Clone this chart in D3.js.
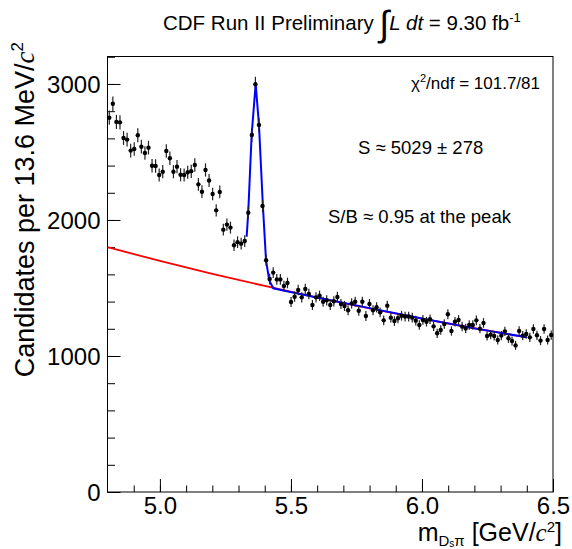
<!DOCTYPE html>
<html>
<head>
<meta charset="utf-8">
<script src="https://cdn.jsdelivr.net/npm/d3@7"></script>
<style>
  body { margin: 0; background: #fff; }
  text { font-family: "Liberation Sans", Arial, Helvetica, sans-serif; fill: #000; }
</style>
</head>
<body>
<script>
// histogram: 125 bins of 13.6 MeV from 4.8 GeV
var binStart = 4.8,
    binWidth = 0.0136;

var counts = [
    2752, 2855, 2721, 2718, 2603, 2591, 2510, 2522, 2623, 2539,
    2493, 2532, 2399, 2397, 2331, 2355, 2507, 2454, 2355, 2392,
    2333, 2331, 2351, 2358, 2404, 2262, 2208, 2368, 2290, 2191,
    2071, 2206, 1929, 1966, 1944, 1814, 1837, 1826, 1845, 2054,
    2625, 2998, 2699, 2103, 1704, 1566, 1613, 1563, 1563, 1515,
    1537, 1397, 1436, 1485, 1431, 1493, 1456, 1375, 1431, 1443,
    1399, 1409, 1375, 1402, 1434, 1382, 1368, 1336, 1387, 1399,
    1333, 1399, 1294, 1382, 1336, 1358, 1321, 1262, 1370, 1282,
    1257, 1277, 1296, 1290, 1290, 1282, 1260, 1228, 1265, 1252,
    1270, 1218, 1167, 1191, 1235, 1307, 1184, 1252, 1265, 1216,
    1203, 1228, 1228, 1262, 1201, 1243, 1147, 1157, 1147, 1118,
    1150, 1181, 1130, 1110, 1078, 1184, 1150, 1162, 1137, 1199,
    1152, 1113, 1199, 1118, 1154
];

// fit curves [mass, candidates]
var fitTotal = [
    [5.331, 1877], [5.337, 2054], [5.350, 2625], [5.3654, 3000], [5.378, 2699],
    [5.393, 2103], [5.405, 1701], [5.4175, 1554], [5.4327, 1498], [5.475, 1480],
    [5.6, 1430], [5.8, 1352], [6.0, 1275], [6.2, 1203], [6.4, 1137]
];
var fitBackground = [
    [4.8, 1800], [5.0, 1699], [5.2, 1604], [5.4, 1515], [5.6, 1430],
    [5.8, 1350], [6.0, 1275], [6.2, 1204], [6.4, 1137]
];

var xTicks = [5.0, 5.5, 6.0, 6.5],
    yTicks = [0, 1000, 2000, 3000];

var width = 572, height = 549,
    frameL = 107.5, frameR = 553, frameT = 56.5, frameB = 492;

var svg = d3.select('body').append('svg')
    .attr('width', width).attr('height', height);

var x = d3.scaleLinear().domain([4.8, 6.5]).range([frameL, frameR]);
var y = d3.scaleLinear().domain([0, 3202]).range([frameB, frameT]);

// axes, ticks inside the frame like ROOT
var xAxis = d3.axisBottom(x).tickValues(xTicks).tickFormat(d3.format('.1f'))
    .tickSizeInner(-13).tickSizeOuter(0).tickPadding(0);
var xMinor = d3.axisBottom(x).tickValues(d3.range(49, 66).map(function(d) { return d / 10; }))
    .tickSize(-6.5).tickFormat('');
var yAxis = d3.axisLeft(y).tickValues(yTicks).tickFormat(d3.format('d'))
    .tickSizeInner(-13).tickSizeOuter(0).tickPadding(0);
var yMinor = d3.axisLeft(y).tickValues(d3.range(0, 3201, 200))
    .tickSize(-7.5).tickFormat('');

svg.append('g').attr('transform', 'translate(0,' + frameB + ')').call(xMinor);
var gx = svg.append('g').attr('transform', 'translate(0,' + frameB + ')').call(xAxis);
svg.append('g').attr('transform', 'translate(' + frameL + ',0)').call(yMinor);
var gy = svg.append('g').attr('transform', 'translate(' + frameL + ',0)').call(yAxis);

svg.selectAll('.domain').remove();
svg.selectAll('.tick line').attr('stroke', '#000');
gx.selectAll('.tick text').style('font-size', '24px').attr('fill', '#000')
    .attr('y', 22).attr('dy', null);
gy.selectAll('.tick text').style('font-size', '24px').attr('fill', '#000')
    .attr('x', -7).attr('dy', '0.36em');

svg.append('rect')
    .attr('x', frameL).attr('y', frameT)
    .attr('width', frameR - frameL).attr('height', frameB - frameT)
    .attr('fill', 'none').attr('stroke', '#000').attr('stroke-width', 1);

// fits
var line = d3.line()
    .x(function(d) { return x(d[0]); })
    .y(function(d) { return y(d[1]); });

svg.append('path').datum(fitBackground)
    .attr('d', line).attr('fill', 'none')
    .attr('stroke', '#ff0000').attr('stroke-width', 1.8);
svg.append('path').datum(fitTotal)
    .attr('d', line).attr('fill', 'none')
    .attr('stroke', '#0000ff').attr('stroke-width', 2);

// data points with sqrt(N) errors
var pts = svg.append('g').selectAll('g').data(counts).enter().append('g');
pts.append('line')
    .attr('x1', function(d, i) { return x(binStart + (i + 0.5) * binWidth); })
    .attr('x2', function(d, i) { return x(binStart + (i + 0.5) * binWidth); })
    .attr('y1', function(d) { return y(d - Math.sqrt(d)); })
    .attr('y2', function(d) { return y(d + Math.sqrt(d)); })
    .attr('stroke', '#222').attr('stroke-width', 1.2);
pts.append('circle')
    .attr('cx', function(d, i) { return x(binStart + (i + 0.5) * binWidth); })
    .attr('cy', function(d) { return y(d); })
    .attr('r', 2.2).attr('fill', '#000');

// title
var title = svg.append('text').attr('x', 163).attr('y', 30).style('font-size', '20.5px');
title.append('tspan').text('CDF Run II Preliminary ');
title.append('tspan').text('\u222B').style('font-size', '36px').attr('dy', 6);
title.append('tspan').text('L').style('font-style', 'italic').attr('dy', -6);
title.append('tspan').text(' dt').style('font-style', 'italic');
title.append('tspan').text(' = 9.30 fb');
title.append('tspan').text('-1').style('font-size', '13px').attr('dy', -8);

// fit info
svg.append('text').attr('x', 540).attr('y', 89).attr('text-anchor', 'end')
    .style('font-size', '17px')
    .html('\u03C7<tspan dy="-7" style="font-size:11px">2</tspan><tspan dy="7">/ndf = 101.7/81</tspan>');
svg.append('text').attr('x', 358).attr('y', 154).style('font-size', '18.5px')
    .text('S \u2248 5029 \u00B1 278');
svg.append('text').attr('x', 328).attr('y', 223).style('font-size', '18.5px')
    .text('S/B \u2248 0.95 at the peak');

// axis titles
var xt = svg.append('text').attr('x', 562).attr('y', 541)
    .attr('text-anchor', 'end').style('font-size', '25px');
xt.append('tspan').text('m');
xt.append('tspan').text('D').style('font-size', '15px').attr('dy', 5);
xt.append('tspan').text('s').style('font-size', '10px').attr('dy', 1);
xt.append('tspan').text('\u03C0').style('font-size', '15px').attr('dy', -1);
xt.append('tspan').text(' [GeV/').attr('dy', -5);
xt.append('tspan').text('c').style('font-style', 'italic').style('font-family', '"Liberation Serif", serif');
xt.append('tspan').text('2').style('font-size', '15px').attr('dy', -9);
xt.append('tspan').text(']').attr('dy', 9);

var yt = svg.append('text')
    .attr('transform', 'translate(34,42) rotate(-90)')
    .attr('text-anchor', 'end').style('font-size', '27px');
yt.append('tspan').text('Candidates per 13.6 MeV/');
yt.append('tspan').text('c').style('font-style', 'italic').style('font-family', '"Liberation Serif", serif');
yt.append('tspan').text('2').style('font-size', '17px').attr('dy', -11);
</script>
</body>
</html>
